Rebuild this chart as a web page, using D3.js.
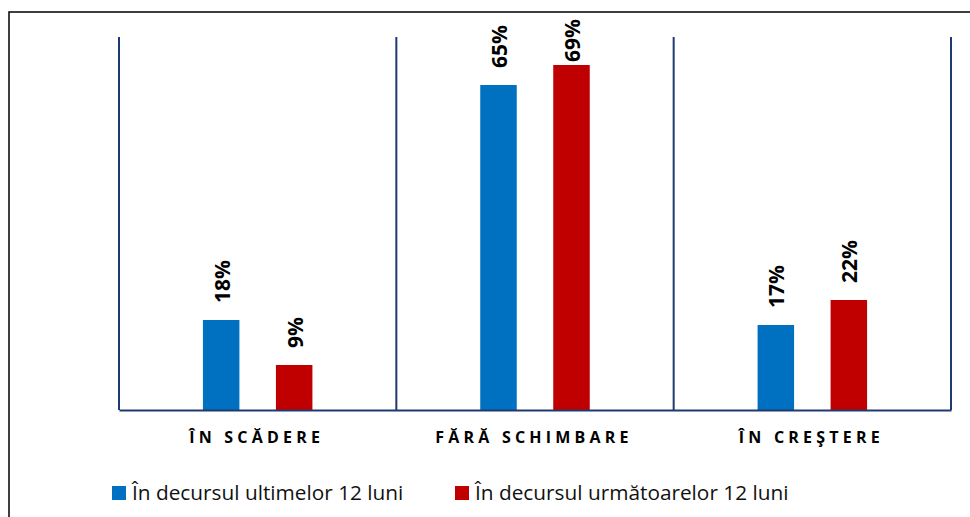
<!DOCTYPE html>
<html>
<head>
<meta charset="utf-8">
<script src="https://cdn.jsdelivr.net/npm/d3@7"></script>
<style>
  body { margin: 0; background: #fff; }
  svg { display: block; }
</style>
</head>
<body>
<svg id="chart" width="970" height="517"></svg>
<script>
var categories = ['ÎN SCĂDERE', 'FĂRĂ SCHIMBARE', 'ÎN CREŞTERE'];
var series = ['În decursul ultimelor 12 luni', 'În decursul următoarelor 12 luni'];
var lastYear = [18, 65, 17];
var nextYear = [9, 69, 22];
var colors = ['#0070c0', '#c00000'];

var svg = d3.select('#chart');

// outer frame
svg.append('rect')
  .attr('x', 9)
  .attr('y', 12)
  .attr('width', 980)
  .attr('height', 520)
  .attr('fill', 'none')
  .attr('stroke', '#000')
  .attr('stroke-width', 1.5);

var plotLeft = 119, plotRight = 951, plotTop = 37, plotBottom = 410;
var navy = '#1f3a73';

var x0 = d3.scaleBand()
  .domain(categories)
  .range([plotLeft, plotRight])
  .padding(0);

var bw = x0.bandwidth();
var x1 = d3.scaleBand()
  .domain(series)
  .range([bw / 2 - 73, bw / 2 + 73])
  .paddingInner(0.5)
  .paddingOuter(0.25);

var y = d3.scaleLinear()
  .domain([0, 74.6])
  .range([plotBottom, plotTop]);

// vertical separators
var edges = categories.map(function(c) { return x0(c); }).concat([plotRight]);
svg.append('g')
  .selectAll('line')
  .data(edges)
  .enter()
  .append('line')
    .attr('x1', function(d) { return d; })
    .attr('x2', function(d) { return d; })
    .attr('y1', plotTop)
    .attr('y2', plotBottom)
    .attr('stroke', navy)
    .attr('stroke-width', 2);

var rows = categories.map(function(c, i) {
  return { cat: c, values: [lastYear[i], nextYear[i]] };
});

var groups = svg.append('g')
  .selectAll('g')
  .data(rows)
  .enter()
  .append('g')
    .attr('transform', function(d) { return 'translate(' + x0(d.cat) + ',0)'; });

function pairs(d) {
  return d.values.map(function(v, j) { return { s: series[j], v: v, j: j }; });
}

groups.selectAll('rect')
  .data(pairs)
  .enter()
  .append('rect')
    .attr('x', function(d) { return x1(d.s); })
    .attr('y', function(d) { return y(d.v); })
    .attr('width', x1.bandwidth())
    .attr('height', function(d) { return plotBottom - y(d.v); })
    .attr('fill', function(d) { return colors[d.j]; });

// labels sit above the bar, but are kept inside the frame
groups.selectAll('text')
  .data(pairs)
  .enter()
  .append('text')
    .attr('transform', function(d) {
      var ly = Math.max(y(d.v) - 17, 62);
      return 'translate(' + (x1(d.s) + x1.bandwidth() / 2 + 8.5) + ',' + ly + ') rotate(-90)';
    })
    .attr('font-family', 'Open Sans, sans-serif')
    .attr('font-weight', 'bold')
    .attr('font-size', 21)
    .attr('fill', '#000')
    .text(function(d) { return d.v + '%'; });

// bottom axis
var axis = d3.axisBottom(x0).tickSize(0).tickPadding(22);
var ax = svg.append('g')
  .attr('transform', 'translate(0,' + plotBottom + ')')
  .call(axis);
ax.select('.domain').attr('stroke', navy).attr('stroke-width', 2);
ax.selectAll('text')
  .attr('font-family', 'Open Sans, sans-serif')
  .attr('font-weight', 'bold')
  .attr('font-size', 16)
  .attr('fill', '#000')
  .attr('dx', -1)
  .style('letter-spacing', '4.2px');

// legend
var legend = svg.append('g')
  .selectAll('g')
  .data(series)
  .enter()
  .append('g')
    .attr('transform', function(d, i) { return 'translate(' + [112, 455][i] + ',486)'; });

legend.append('rect')
  .attr('width', 14)
  .attr('height', 14)
  .attr('fill', function(d, i) { return colors[i]; });

legend.append('text')
  .attr('x', 20)
  .attr('y', 14)
  .attr('font-family', 'Open Sans, sans-serif')
  .attr('font-size', 20.8)
  .attr('fill', '#111')
  .text(function(d) { return d; });
</script>
</body>
</html>
